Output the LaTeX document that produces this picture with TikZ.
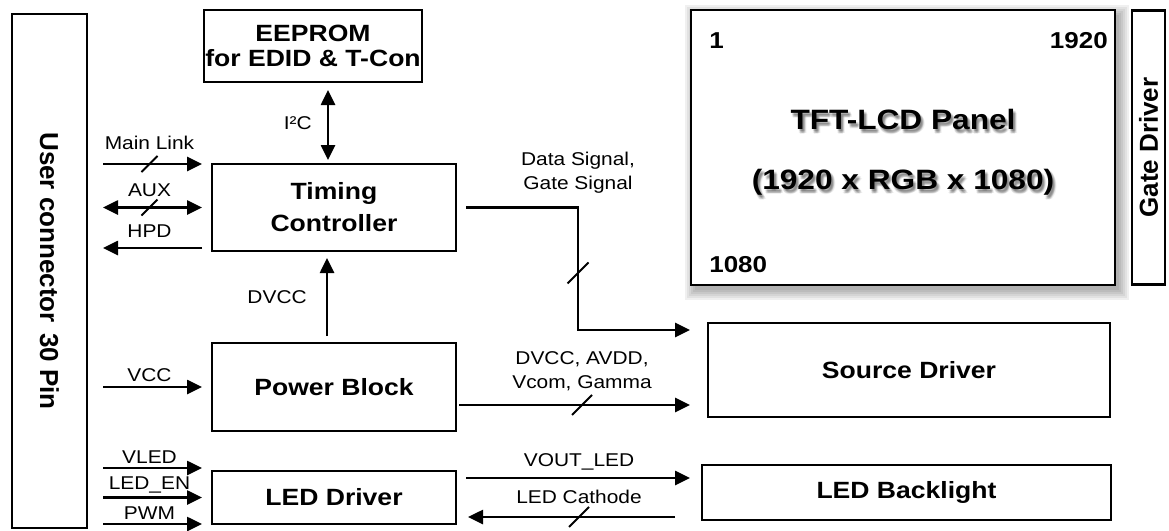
\documentclass[tikz,border=0pt]{standalone}
\usepackage{graphicx}
\usepackage{fontspec}
\setmainfont{Liberation Sans}[FakeStretch=1.13]
\newfontfamily\rotfont{Liberation Sans}
\usetikzlibrary{positioning, arrows.meta, backgrounds}

\begin{document}
\begin{tikzpicture}[x=1pt, y=-1pt, line width=2.6pt,
    box/.style={draw, fill=white, outer sep=0pt, inner sep=0pt, align=center,
        font=\bfseries\fontsize{23.5}{32}\selectfont},
    rotbox/.style={box, font=\rotfont\bfseries\fontsize{26}{26}\selectfont},
    lbl/.style={inner sep=0pt, text depth=0pt, align=center,
        font=\fontsize{18.5}{24}\selectfont},
    ttl/.style={inner sep=0pt, align=center, font=\bfseries\fontsize{28}{60}\selectfont},
    num/.style={inner sep=0pt, font=\bfseries\fontsize{23}{23}\selectfont},
    arr/.style={-{Triangle[length=15pt, width=14pt]}},
    biarr/.style={{Triangle[length=15pt, width=14pt]}-{Triangle[length=15pt, width=14pt]}},
    inarr/.style={shorten <=16pt, shorten >=10pt},
    slashln/.style={line width=2pt}]
    \useasboundingbox (0,0) rectangle (1169,530);

    \node[rotbox, minimum width=75pt, minimum height=514pt] (conn) at (49.5,271)
        {\rotatebox{-90}{User connector\hspace{3pt} 30 Pin}};
    \node[box, minimum width=218pt, minimum height=72pt,
        font=\bfseries\fontsize{23.5}{25}\selectfont] (eeprom) at (313,46) {EEPROM\\for EDID \& T-Con};
    \node[box, minimum width=244pt, minimum height=87pt] (tcon) at (334,207.5) {Timing\\Controller};
    \node[box, minimum width=244pt, minimum height=88pt, below=92pt of tcon] (pwr) {Power Block};
    \node[box, minimum width=244pt, minimum height=53pt, below=40pt of pwr] (ledd) {LED Driver};
    \node[box, minimum width=424pt, minimum height=275pt] (panel) at (903,147.5) {};
    \node[rotbox, minimum width=33pt, minimum height=274pt, right=17pt of panel] (gate)
        {\rotatebox{90}{Gate Driver}};
    \node[box, minimum width=402pt, minimum height=94pt] (src) at (909,370) {Source Driver};
    \node[box, minimum width=409pt, minimum height=55pt] (bl) at (906.5,492.5) {LED Backlight};

    \begin{scope}[on background layer]
    \foreach \e in {10,8,...,0}
        \fill[black, opacity=0.06] ([shift={({4-\e},{5-\e})}]panel.north west)
            rectangle ([shift={({4+\e},{5+\e})}]panel.south east);
    \end{scope}

    \foreach \dx/\dy in {1/2,2/3,3/4,2/4,3/2,1/4,3/3,2/2,4/4,2/5}
        \node[ttl, opacity=0.06] (tsh\dx\dy) at ([shift={({\dx},{\dy+5})}]panel.center)
            {TFT-LCD Panel\\(1920 x RGB x 1080)};
    \node[ttl] (ttl) at ([yshift=-5pt]panel.center) {TFT-LCD Panel\\(1920 x RGB x 1080)};
    \node[num, anchor=base west] (n1) at ([shift={(17,38)}]panel.north west) {1};
    \node[num, anchor=base east] (n1920) at ([shift={(-6,38)}]panel.north east) {1920};
    \node[num, anchor=base west] (n1080) at ([shift={(17,-13)}]panel.south west) {1080};

    \draw[arr, inarr] (conn.east |- tcon.north) -- node[lbl, above=13pt] (lml) {Main Link}
        coordinate[midway] (s1) (tcon.north west);
    \draw[biarr, inarr] (conn.east |- tcon.west) -- node[lbl, above=10pt] (laux) {AUX}
        coordinate[midway] (s2) (tcon.west);
    \coordinate (hpd) at ([yshift=3pt]tcon.south west);
    \draw[arr, shorten <=10pt, shorten >=16pt] (hpd) -- node[lbl, above=9pt] (lhpd) {HPD} (hpd -| conn.east);
    \draw[arr, inarr] (conn.east |- pwr.west) -- node[lbl, above=4pt] (lvcc) {VCC} (pwr.west);
    \coordinate (vled) at ([yshift=3pt]ledd.north west);
    \draw[arr, inarr] (vled -| conn.east) -- node[lbl, above=3pt] (lvled) {VLED} (vled);
    \draw[arr, inarr] (conn.east |- ledd.west) -- node[lbl, above=7pt] (len) {LED\_EN} (ledd.west);
    \draw[arr, inarr] (conn.east |- ledd.south west) -- node[lbl, above=3pt] (lpwm) {PWM} (ledd.south west);

    \coordinate (i2c) at ([xshift=-6pt]tcon.north);
    \draw[biarr, shorten <=4pt, shorten >=8pt] (i2c) -- node[lbl, left=15pt] (li2c) {I²C} (i2c |- eeprom.south);
    \coordinate (dv) at ([xshift=-7pt]pwr.north);
    \draw[arr, shorten <=7pt, shorten >=7pt] (dv) -- node[lbl, left=19pt] (ldvcc) {DVCC} (dv |- tcon.south);

    \coordinate (bus) at (578,273);
    \draw[arr, shorten <=10pt, shorten >=18pt] (tcon.east) -| node[lbl, pos=0.5, above=17pt] (lds)
        {Data Signal,\\Gate Signal} (bus) |- ([yshift=40pt]src.west);
    \coordinate (pv) at ([yshift=-18pt]pwr.east);
    \draw[arr, shorten <=3pt, shorten >=18pt] (pv) -- node[lbl, above=15pt] (lpv) {DVCC, AVDD,\\Vcom, Gamma}
        coordinate[midway] (s3) (pv -| src.west);
    \coordinate (vo) at ([yshift=19.5pt]ledd.east);
    \draw[arr, shorten <=10pt, shorten >=12pt] (vo) -- node[lbl, above=10pt] (lvo) {VOUT\_LED} (vo -| bl.west);
    \coordinate (ca) at ([yshift=-19.5pt]ledd.east);
    \draw[arr, shorten <=27pt, shorten >=12pt] (ca -| bl.west) -- node[lbl, above=12pt] (lca) {LED Cathode}
        coordinate[midway] (s4) (ca);

    \foreach \s/\r in {s1/8, s2/8, s3/10, s4/10, bus/10.5}
        \draw[slashln] ([shift={({-\r},{\r})}]\s) -- ([shift={({\r},{-\r})}]\s);
\end{tikzpicture}
\end{document}
